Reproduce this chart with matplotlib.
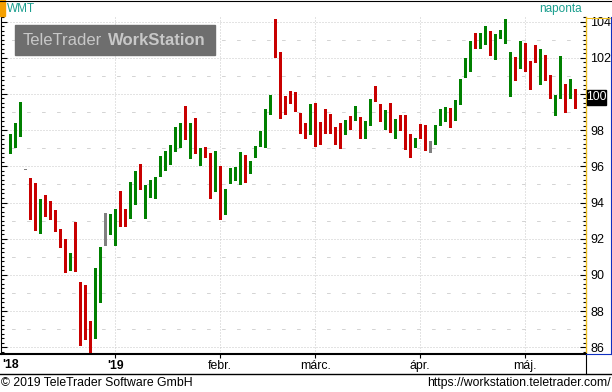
import matplotlib
matplotlib.use("Agg")
import matplotlib.pyplot as plt
from matplotlib.lines import Line2D
from matplotlib.patches import Rectangle
import numpy as np

plt.rcParams['font.family'] = ['Liberation Sans', 'DejaVu Sans']
plt.rcParams['lines.scale_dashes'] = False

# WMT, denní svíčky (koniec nov. 2018 - polovica mája 2019), index = obchodný deň
opens = [97.07, 97.42, 97.86, 95.78, 95.30, 95.02, 93.38, 94.30, 94.08, 93.20,
         92.00, 91.04, 90.98, 91.27, 89.55, 87.25, 86.35, 86.59, 89.85, 92.08,
         92.89, 91.78, 93.31, 93.49, 93.66, 95.08, 95.68, 93.77, 94.77, 94.27,
         95.59, 95.98, 96.40, 96.90, 97.25, 98.94, 97.91, 98.45, 96.48, 96.81,
         96.73, 94.71, 95.96, 93.88, 95.15, 95.35, 95.04, 96.40, 95.79, 96.75,
         97.36, 97.51, 99.00, 102.65, 101.93, 99.55, 99.72, 99.99, 98.83, 98.23,
         98.08, 99.33, 98.17, 98.45, 98.67, 97.67, 97.64, 97.97, 98.67, 98.74,
         98.23, 98.17, 98.36, 100.05, 99.17, 98.25, 98.56, 97.80, 98.41, 98.12,
         97.62, 97.47, 98.00, 97.73, 97.18, 97.25, 98.30, 98.52, 99.06, 98.74,
         99.55, 101.06, 101.28, 103.00, 102.83, 103.09, 102.87, 102.50, 103.09, 103.27,
         100.07, 101.82, 101.84, 102.54, 101.54, 102.11, 100.84, 101.95, 100.34, 99.24,
         99.81, 100.53, 100.10, 100.03]
highs = [97.78, 98.39, 99.57, 95.78, 95.37, 95.10, 94.19, 94.41, 94.08, 93.59,
         92.54, 91.98, 91.21, 92.92, 89.59, 89.44, 87.45, 90.40, 91.54, 93.44,
         93.36, 93.62, 94.62, 93.64, 95.11, 95.74, 96.13, 94.97, 95.24, 95.41,
         96.57, 96.85, 97.18, 98.17, 98.39, 99.33, 98.39, 98.65, 97.01, 97.08,
         96.73, 96.85, 95.99, 94.74, 95.89, 95.94, 96.79, 96.62, 96.29, 97.12,
         97.97, 99.15, 99.94, 104.14, 102.30, 99.90, 100.16, 100.12, 98.94, 98.41,
         99.44, 99.50, 98.45, 99.18, 98.91, 98.15, 98.39, 98.56, 98.78, 99.33,
         98.71, 98.50, 99.72, 100.44, 99.47, 99.13, 99.50, 98.61, 98.83, 98.83,
         97.78, 97.58, 98.34, 98.28, 97.40, 98.28, 99.17, 99.28, 99.22, 99.66,
         100.80, 102.00, 102.92, 103.36, 103.36, 103.75, 103.47, 103.31, 103.53, 104.14,
         102.32, 102.04, 102.92, 102.81, 101.80, 102.70, 102.48, 102.15, 101.03, 99.94,
         102.09, 100.53, 100.80, 100.29]
lows = [96.75, 97.07, 97.69, 95.78, 93.09, 92.48, 92.33, 93.27, 93.09, 92.44,
        91.56, 90.18, 90.27, 90.23, 86.13, 86.46, 85.76, 86.53, 88.48, 91.67,
        92.28, 91.67, 92.72, 92.72, 93.16, 93.94, 94.76, 93.16, 94.32, 94.27,
        95.48, 95.81, 96.13, 96.85, 97.07, 97.53, 96.48, 96.75, 96.07, 96.53,
        94.27, 94.65, 93.09, 93.36, 95.06, 95.24, 95.02, 95.15, 95.65, 96.53,
        97.14, 97.08, 98.87, 102.06, 98.69, 98.91, 99.48, 99.05, 97.86, 97.58,
        97.80, 97.14, 97.25, 97.86, 97.86, 97.25, 97.03, 97.80, 98.06, 98.56,
        97.58, 97.58, 98.28, 99.63, 98.50, 98.08, 97.91, 97.58, 98.00, 96.96,
        96.53, 97.08, 97.58, 96.92, 96.81, 97.25, 98.28, 98.50, 98.19, 98.58,
        99.44, 100.95, 101.28, 102.54, 102.52, 102.76, 102.15, 101.95, 103.09, 102.81,
        99.90, 100.79, 101.45, 101.28, 100.29, 101.78, 100.56, 100.79, 99.79, 98.85,
        99.79, 99.02, 99.79, 99.20]
closes = [97.23, 97.58, 98.72, 95.78, 94.76, 93.22, 94.03, 93.86, 93.14, 92.94,
          91.84, 90.79, 91.04, 90.57, 87.23, 87.09, 85.81, 90.38, 91.52, 92.08,
          93.09, 93.25, 92.89, 93.44, 94.47, 95.14, 94.87, 94.91, 94.84, 94.91,
          96.24, 96.29, 96.74, 97.67, 97.43, 98.72, 98.34, 96.90, 97.01, 96.70,
          94.76, 96.01, 93.77, 94.74, 95.56, 95.58, 96.68, 95.56, 96.18, 96.96,
          97.91, 98.45, 99.94, 102.22, 99.85, 99.35, 99.52, 99.17, 98.67, 98.13,
          98.89, 97.99, 97.80, 98.39, 98.24, 97.42, 97.58, 98.45, 98.41, 99.00,
          98.17, 98.23, 99.66, 99.83, 98.63, 99.00, 98.25, 98.17, 98.28, 97.19,
          97.14, 97.53, 97.80, 96.97, 97.18, 98.12, 98.83, 99.22, 98.69, 99.55,
          100.77, 101.54, 102.43, 102.88, 103.14, 103.14, 102.39, 103.03, 103.47, 103.47,
          101.49, 101.56, 102.87, 101.34, 101.17, 102.06, 102.43, 101.28, 100.29, 99.50,
          101.91, 99.85, 100.25, 99.85]

month_idx = [21, 42, 61, 82, 103]
month_labels = ["'19", "febr.", "márc.", "ápr.", "máj."]
price_ticks = list(range(86, 105, 2))
last_label = "100"

W, H = 612, 392
fig = plt.figure(figsize=(W / 100, H / 100), dpi=100)
fig.patch.set_facecolor('white')


def fx(px):
    return px / W


def fy(py):
    return 1 - py / H


ax = fig.add_axes([fx(1), fy(354), (586 - 1) / W, (354 - 17) / H])
ax.set_facecolor('white')

x = np.arange(len(opens))
o = np.array(opens)
c = np.array(closes)
colors = np.where(c > o, '#008000', np.where(c < o, '#c80000', '#808080'))

ax.vlines(x, lows, highs, colors=colors, linewidth=0.8, zorder=3, antialiased=False)
bottoms = np.minimum(o, c)
heights = np.maximum(np.abs(c - o), 0.06)
ax.bar(x, heights, bottom=bottoms, width=0.66, color=colors, linewidth=0,
       zorder=4, antialiased=False)

ax.set_xlim(-1.85, 115.15)
ax.set_ylim(85.63, 104.25)

# mriežka
dot = (0, (0.72, 1.44))
for p in price_ticks:
    ax.axhline(p, color='#c8c8c8', linewidth=0.72, linestyle=dot, zorder=1)
for p in range(87, 104, 2):
    ax.axhline(p, color='#d4d4d4', linewidth=0.72, linestyle=(3.2, (2.6, 8.2)), zorder=1)
for m in month_idx:
    ax.axvline(m, color='#c8c8c8', linewidth=0.72, linestyle=dot, zorder=1)

# osi (popis 100 prekrýva rámik s aktuálnou cenou)
ax.set_yticks(price_ticks)
ax.set_yticklabels(['' if str(p) == last_label else str(p) for p in price_ticks])
ax.set_yticks(np.arange(85.75, 104.3, 0.25), minor=True)
ax.tick_params(axis='y', which='both', direction='in', left=True, right=True,
               labelleft=False, labelright=True, color='black', width=0.8)
ax.tick_params(axis='y', which='major', length=4.5, labelsize=9, pad=3)
ax.tick_params(axis='y', which='minor', length=2)

ax.set_xticks(month_idx)
ax.set_xticklabels(month_labels)
ax.tick_params(axis='x', which='both', direction='out', length=3, width=0.8,
               labelsize=8.8, pad=1.5, top=False)
ax.get_xticklabels()[0].set_fontweight('bold')

ax.spines['top'].set_visible(False)
ax.spines['left'].set_linewidth(0.8)
ax.spines['bottom'].set_linewidth(1.5)
ax.spines['right'].set_color('#f0c020')
ax.spines['right'].set_linewidth(1.0)

fig.text(fx(2), fy(365), "'18", fontsize=8.8, fontweight='bold', va='center', ha='left')


# rámiky okolo
def hline(x0, x1, y, color='black', lw=0.8):
    fig.add_artist(Line2D([fx(x0), fx(x1)], [fy(y), fy(y)], color=color, linewidth=lw,
                          transform=fig.transFigure))


def vline(xp, y0, y1, color='black', lw=0.8):
    fig.add_artist(Line2D([fx(xp), fx(xp)], [fy(y0), fy(y1)], color=color, linewidth=lw,
                          transform=fig.transFigure))


hline(0, W, 0.5)
hline(0, W, 374, lw=1.0)
vline(585.5, 354, 374)
hline(586, 611, 17.5, color='#f0c020')
vline(611, 17, 354, color='#1030c0')
hline(586, 611, 353.5, color='#1030c0')

# hlavička
fig.add_artist(Rectangle((fx(0), fy(16)), fx(5), 16 / H, color='#f5a000',
                         transform=fig.transFigure))
fig.text(fx(7), fy(9), "WMT", fontsize=8.5, color='#1a9e8e', va='center', ha='left')
fig.text(fx(582), fy(9), "naponta", fontsize=8.5, color='#1a9e8e', va='center', ha='right')

# vodoznak
fig.add_artist(Rectangle((fx(15), fy(55)), 200 / W, 30 / H, color='#6e6e6e',
                         transform=fig.transFigure, zorder=5))
fig.text(fx(23), fy(40.5), "TeleTrader", fontsize=12, color='#c8c8c8', va='center',
         ha='left', zorder=6)
fig.text(fx(108), fy(40.5), "WorkStation", fontsize=12, fontweight='bold', color='#c8c8c8',
         va='center', ha='left', zorder=6)

# aktuálna cena
fig.add_artist(Rectangle((fx(587), fy(105)), 19 / W, 15 / H, color='black',
                         transform=fig.transFigure, zorder=5))
fig.text(fx(596.5), fy(97.5), last_label, fontsize=8.8, color='white', va='center',
         ha='center', zorder=6)

# päta
fig.text(fx(1), fy(383), "© 2019 TeleTrader Software GmbH", fontsize=8.8, va='center', ha='left')
fig.text(fx(611), fy(383), "https://workstation.teletrader.com/", fontsize=8.8,
         va='center', ha='right')

fig.savefig('out.png', dpi=100)
